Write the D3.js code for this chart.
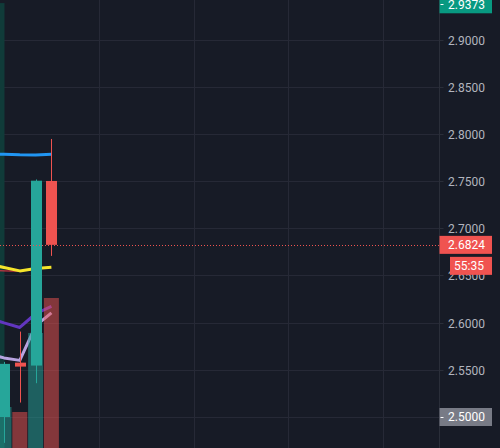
<!DOCTYPE html>
<html>
<head>
<meta charset="utf-8">
<script src="https://d3js.org/d3.v7.min.js"></script>
<style>
  body { margin: 0; background: #171b26; overflow: hidden; }
  text { font-family: Roboto, "Liberation Sans", sans-serif; font-size: 12px; }
</style>
</head>
<body>
<div id="chart"></div>
<script>
// bar index 0 is the first fully visible candle, -1 sits just off the left edge
var candleIdx = [0, 1, 2, 3],
    opens  = [2.5000, 2.5576, 2.5545, 2.7501],
    highs  = [2.5584, 2.5905, 2.7517, 2.7946],
    lows   = [2.4726, 2.5153, 2.5358, 2.6707],
    closes = [2.5563, 2.5534, 2.7504, 2.6824],
    volumes = [41000, 36000, 115000, 150000];

// moving averages, sampled at bars -1..3
var maIdx = [-1, 0, 1, 2, 3],
    maBlue     = [2.7788, 2.7784, 2.7778, 2.7777, 2.7783],
    maYellow   = [2.6622, 2.6584, 2.6548, 2.6574, 2.6587],
    maPurple   = [2.6050, 2.5997, 2.5949, 2.6094, 2.6172],
    maLavender = [2.5669, 2.5626, 2.5600, 2.5965, 2.6103],
    maRedIdx = [-1, 0, 1],
    maRed    = [2.6553, 2.6548, 2.6545];

var priceTicks = [2.50, 2.55, 2.60, 2.65, 2.70, 2.75, 2.80, 2.85, 2.90],
    timeGrid = [6, 12, 18, 24];

// shaded session strip at the left edge (bar units) and its top price
var shadeRange = [-0.253, 0.03],
    shadeTop = 2.9386;

var lastPrice = 2.6824,
    countdown = "55:35",
    highBadge = 2.9373,
    lowBadge = 2.5000;

var width = 500, height = 448,
    plotW = 439.5;

var xScale = d3.scaleLinear().domain([0, 1]).range([4, 19.8]),
    yScale = d3.scaleLinear().domain([2.5, 2.9]).range([417, 39.5]),
    volScale = d3.scaleLinear().domain([0, 300000]).range([height, height - 300]);

var up = "#26a69a", down = "#ef5350";

var svg = d3.select("#chart").append("svg")
    .attr("width", width)
    .attr("height", height)
    .style("display", "block");

svg.append("rect").attr("width", width).attr("height", height).attr("fill", "#171b26");

var plot = svg.append("g");
svg.append("clipPath").attr("id", "plotclip")
  .append("rect").attr("width", plotW).attr("height", height);
plot.attr("clip-path", "url(#plotclip)");

// grid
plot.selectAll(".hgrid").data(priceTicks).enter().append("line")
    .attr("x1", 0).attr("x2", plotW)
    .attr("y1", function(d) { return Math.round(yScale(d)) + 0.5; })
    .attr("y2", function(d) { return Math.round(yScale(d)) + 0.5; })
    .attr("stroke", "#262936");
plot.selectAll(".vgrid").data(timeGrid).enter().append("line")
    .attr("x1", function(d) { return Math.round(xScale(d)) + 0.5; })
    .attr("x2", function(d) { return Math.round(xScale(d)) + 0.5; })
    .attr("y1", 0).attr("y2", height)
    .attr("stroke", "#262936");

// left shaded strip
plot.append("rect")
    .attr("x", xScale(shadeRange[0]))
    .attr("width", xScale(shadeRange[1]) - xScale(shadeRange[0]))
    .attr("y", yScale(shadeTop))
    .attr("height", height - yScale(shadeTop))
    .attr("fill", "#103b39");

// moving averages
function drawLine(idx, vals, color, w) {
  var line = d3.line()
      .x(function(d, i) { return xScale(idx[i]); })
      .y(function(d) { return yScale(d); });
  plot.append("path")
      .datum(vals)
      .attr("d", line)
      .attr("fill", "none")
      .attr("stroke", color)
      .attr("stroke-width", w)
      .attr("stroke-linejoin", "round");
}
drawLine(maRedIdx, maRed, "#f23645", 1);
drawLine(maIdx, maYellow, "#f5e52b", 3);
drawLine(maIdx, maBlue, "#2196f3", 3);
drawLine(maIdx, maPurple, "#6236c0", 3);
drawLine(maIdx, maLavender, "#b7a3e0", 3);

// volume bars
var bars = candleIdx.map(function(d, i) {
  return {i: d, o: opens[i], h: highs[i], l: lows[i], c: closes[i], v: volumes[i]};
});
plot.selectAll(".vol").data(bars).enter().append("rect")
    .attr("x", function(d) { return xScale(d.i) - 7.5; })
    .attr("width", 15)
    .attr("y", function(d) { return volScale(d.v); })
    .attr("height", function(d) { return height - volScale(d.v); })
    .attr("fill", function(d) { return d.c >= d.o ? up : down; })
    .attr("fill-opacity", 0.5);

// candles
var candle = plot.selectAll(".candle").data(bars).enter().append("g");
candle.append("line")
    .attr("x1", function(d) { return Math.round(xScale(d.i)) + 0.5; })
    .attr("x2", function(d) { return Math.round(xScale(d.i)) + 0.5; })
    .attr("y1", function(d) { return yScale(d.h); })
    .attr("y2", function(d) { return yScale(d.l); })
    .attr("stroke", function(d) { return d.c >= d.o ? up : down; });
candle.append("rect")
    .attr("x", function(d) { return Math.round(xScale(d.i)) - 5; })
    .attr("width", 11)
    .attr("y", function(d) { return yScale(Math.max(d.o, d.c)); })
    .attr("height", function(d) { return Math.max(1, Math.abs(yScale(d.o) - yScale(d.c))); })
    .attr("fill", function(d) { return d.c >= d.o ? up : down; });

// last price dotted line
plot.append("line")
    .attr("x1", 0).attr("x2", plotW)
    .attr("y1", Math.round(yScale(lastPrice)) + 0.5)
    .attr("y2", Math.round(yScale(lastPrice)) + 0.5)
    .attr("stroke", down)
    .attr("stroke-dasharray", "1,2");

// price axis
var axis = svg.append("g");
axis.append("line")
    .attr("x1", plotW).attr("x2", plotW)
    .attr("y1", 0).attr("y2", height)
    .attr("stroke", "#2a2e39");
var tick = axis.selectAll(".tick").data(priceTicks).enter().append("g")
    .attr("transform", function(d) { return "translate(0," + (Math.round(yScale(d)) + 0.5) + ")"; });
tick.append("line")
    .attr("x1", plotW).attr("x2", plotW + 4)
    .attr("stroke", "#2a2e39");
tick.append("text")
    .attr("x", 448)
    .attr("dy", "0.36em")
    .attr("fill", "#b2b5be")
    .text(function(d) { return d.toFixed(4); });

function badge(price, label, color, x0, textX, anchor, offset, dash) {
  var y = yScale(price) + (offset || 0);
  var g = axis.append("g");
  g.append("rect")
      .attr("x", x0).attr("width", 492 - x0)
      .attr("y", y - 9).attr("height", 18)
      .attr("fill", color);
  g.append("text")
      .attr("x", textX).attr("y", y)
      .attr("dy", "0.36em")
      .attr("text-anchor", anchor)
      .attr("fill", "#ffffff")
      .text(label);
  if (dash) {
    g.append("line")
        .attr("x1", plotW + 1).attr("x2", plotW + 4)
        .attr("y1", Math.round(y) + 0.5).attr("y2", Math.round(y) + 0.5)
        .attr("stroke", "#ffffff");
  }
}
badge(highBadge, highBadge.toFixed(4), "#089981", plotW, 448, "start", 0, true);
badge(lastPrice, lastPrice.toFixed(4), "#f05350", plotW, 448, "start", 0, false);
badge(lastPrice, countdown, "#f05350", 450, 484, "end", 21, false);
badge(lowBadge, lowBadge.toFixed(4), "#787b86", plotW, 448, "start", 0, true);
</script>
</body>
</html>
